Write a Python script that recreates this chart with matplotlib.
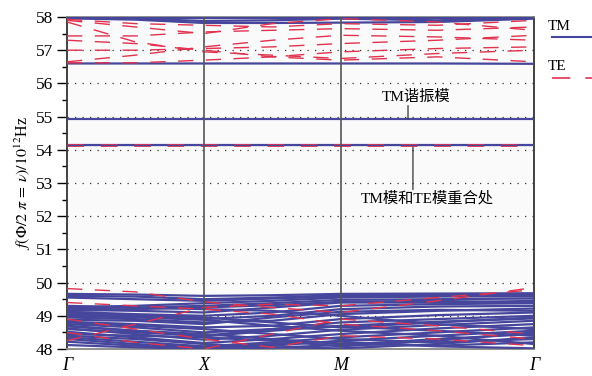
import numpy as np
import matplotlib
matplotlib.use("Agg")
import matplotlib.pyplot as plt

plt.rcParams['font.family'] = ['Liberation Serif', 'Noto Sans CJK SC']
plt.rcParams['mathtext.fontset'] = 'stix'

# k 路径: Γ, ½ΓX, X, ½XM, M, ½MΓ, Γ
k_pts = [0.0, 0.5, 1.0, 1.5, 2.0, 2.707, 3.414]
k_ticks = [0.0, 1.0, 2.0, 3.414]
k_labels = ["Γ", "X", "M", "Γ"]

# TM 模 (低频簇)
tm_low = [
    [49.66, 49.64, 49.60, 49.62, 49.66, 49.67, 49.68],
    [49.60, 49.58, 49.50, 49.55, 49.62, 49.63, 49.64],
    [49.55, 49.50, 49.45, 49.52, 49.58, 49.60, 49.58],
    [49.26, 49.30, 49.38, 49.45, 49.55, 49.58, 49.60],
    [49.22, 49.25, 49.30, 49.38, 49.48, 49.50, 49.52],
    [49.18, 49.15, 49.10, 49.25, 49.40, 49.40, 49.45],
    [49.15, 49.20, 49.25, 49.32, 49.42, 49.45, 49.40],
    [49.12, 49.05, 49.00, 49.10, 49.30, 49.35, 49.38],
    [49.05, 48.98, 48.90, 49.00, 49.20, 49.28, 49.30],
    [48.95, 48.90, 48.80, 48.85, 49.05, 49.15, 49.22],
    [48.88, 48.85, 48.75, 48.95, 49.12, 49.18, 49.15],
    [48.82, 48.75, 48.65, 48.70, 48.90, 49.02, 49.10],
    [48.75, 48.65, 48.50, 48.60, 48.80, 48.90, 49.00],
    [48.68, 48.55, 48.38, 48.55, 48.70, 48.82, 48.92],
    [48.62, 48.45, 48.28, 48.40, 48.58, 48.72, 48.85],
    [48.52, 48.35, 48.18, 48.30, 48.45, 48.62, 48.75],
    [48.35, 48.22, 48.08, 48.20, 48.35, 48.50, 48.65],
    [48.22, 48.10, 48.02, 48.10, 48.25, 48.40, 48.55],
    [48.12, 48.05, 48.00, 48.04, 48.12, 48.30, 48.45],
    [48.80, 48.70, 48.60, 48.45, 48.30, 48.20, 48.30],
    [48.70, 48.55, 48.45, 48.30, 48.15, 48.10, 48.20],
    [49.00, 48.95, 48.88, 48.70, 48.55, 48.40, 48.15],
    [48.40, 48.30, 48.15, 48.05, 48.02, 48.15, 48.35],
    [49.30, 49.25, 49.20, 49.15, 49.00, 48.75, 48.60],
    [48.60, 48.50, 48.40, 48.60, 48.68, 48.55, 48.40],
    [48.30, 48.15, 48.05, 48.15, 48.22, 48.08, 48.02],
    [49.10, 49.02, 48.95, 48.80, 48.65, 48.80, 48.95],
    [48.45, 48.40, 48.35, 48.25, 48.08, 48.25, 48.50],
]
# TM 模 (高频簇与平带)
tm_high = [
    [57.98, 57.98, 57.98, 57.98, 57.98, 57.98, 57.98],
    [57.96, 57.92, 57.82, 57.82, 57.83, 57.85, 57.95],
    [57.99, 57.95, 57.88, 57.90, 57.95, 57.90, 57.98],
    [56.60, 56.60, 56.60, 56.60, 56.60, 56.60, 56.59],
    [54.93, 54.93, 54.93, 54.93, 54.93, 54.93, 54.93],
    [54.15, 54.15, 54.15, 54.15, 54.15, 54.15, 54.15],
]
# TE 模
te_low = [
    [49.82, 49.72, 49.42, 49.25, 49.10, 49.45, 49.85],
    [48.25, 48.75, 49.25, 49.35, 49.30, 49.55, 49.78],
    [48.50, 48.20, 48.00, 48.45, 48.90, 48.70, 48.45],
    [48.90, 48.60, 48.30, 48.05, 48.40, 48.30, 48.10],
    [49.40, 49.30, 49.20, 49.05, 48.75, 48.55, 48.30],
]
te_high = [
    [57.93, 57.80, 57.75, 57.70, 57.80, 57.75, 57.90],
    [57.43, 57.43, 57.55, 57.60, 57.65, 57.60, 57.70],
    [57.00, 57.00, 57.05, 57.10, 57.20, 57.30, 57.45],
    [56.65, 56.85, 57.10, 57.30, 57.45, 57.40, 57.30],
    [57.85, 57.25, 56.95, 56.85, 56.75, 56.90, 57.00],
    [57.30, 57.20, 57.00, 56.80, 56.70, 56.80, 56.65],
    [57.90, 57.70, 57.50, 57.80, 57.95, 57.85, 57.60],
    [56.62, 56.62, 56.70, 56.80, 56.95, 57.05, 57.10],
]
# TM 与 TE 重合的平带
te_overlap = [54.15, 54.15, 54.15, 54.15, 54.15, 54.15, 54.15]

tm_color = "#46469c"
te_color = "#e0334f"
te_dash = (11, 9)

fig = plt.figure(figsize=(5.92, 3.76), dpi=100)
fig.patch.set_facecolor("white")
ax = fig.add_axes([67 / 592, 1 - 349 / 376, (534 - 67) / 592, (349 - 17) / 376])
ax.set_facecolor("#fafafa")

for y in range(49, 58):
    ax.axhline(y, color="#333333", lw=0.9, ls=(0, (1, 5)), zorder=1)

for band in tm_low + tm_high:
    ax.plot(k_pts, band, color=tm_color, lw=1.6, solid_capstyle="butt", zorder=3)
for band in te_low + te_high:
    ax.plot(k_pts, band, color=te_color, lw=1.0, dashes=te_dash, zorder=4)
ax.plot(k_pts, te_overlap, color=te_color, lw=2.0, dashes=(6, 6), zorder=4)
ax.plot(k_pts, te_overlap, color=tm_color, lw=0.8, zorder=4)

for kx in k_ticks[1:3]:
    ax.axvline(kx, color="#555555", lw=1.2, zorder=5)

ax.set_xlim(k_ticks[0], k_ticks[-1])
ax.set_ylim(48, 58)
ax.set_xticks(k_ticks)
ax.set_xticklabels(k_labels, fontsize=13, fontstyle="italic")
ax.tick_params(axis="x", length=0, pad=6)
ax.set_yticks(range(48, 59))
ax.set_yticks(np.arange(48.5, 58, 1.0), minor=True)
ax.tick_params(axis="y", which="major", length=7, width=1, labelsize=12.5, pad=3, direction="out")
ax.tick_params(axis="y", which="minor", length=3.6, width=1, direction="out")
ax.set_ylabel(r"$f(\Phi/2\ \pi\,=\,\nu)/10^{12}$Hz", fontsize=11.5, labelpad=2)

for side in ["left", "right"]:
    ax.spines[side].set_color("#333333")
    ax.spines[side].set_linewidth(1.3)
for side in ["top", "bottom"]:
    ax.spines[side].set_color("#888888")
    ax.spines[side].set_linewidth(1.3)

# 标注
ax.annotate("", xy=(2.493, 54.93), xytext=(2.493, 55.33),
            arrowprops=dict(arrowstyle="-", color="#333333", lw=0.9, shrinkA=0, shrinkB=0))
ax.text(2.551, 55.38, "TM谐振模", ha="center", va="bottom", fontsize=11)
ax.annotate("", xy=(2.529, 54.15), xytext=(2.529, 52.8),
            arrowprops=dict(arrowstyle="-", color="#333333", lw=0.9, shrinkA=0, shrinkB=0))
ax.text(2.63, 52.75, "TM模和TE模重合处", ha="center", va="top", fontsize=11)

# 图例
fig.text(548 / 592, 1 - 26 / 376, "TM", fontsize=11, va="center", ha="left")
fig.add_artist(plt.Line2D([552 / 592, 1.0], [1 - 37 / 376] * 2, color=tm_color, lw=1.5))
fig.text(548 / 592, 1 - 66 / 376, "TE", fontsize=11, va="center", ha="left")
fig.add_artist(plt.Line2D([552 / 592, 1.0], [1 - 78 / 376] * 2, color=te_color, lw=1.2, dashes=te_dash))

fig.savefig("out.png", dpi=100)
